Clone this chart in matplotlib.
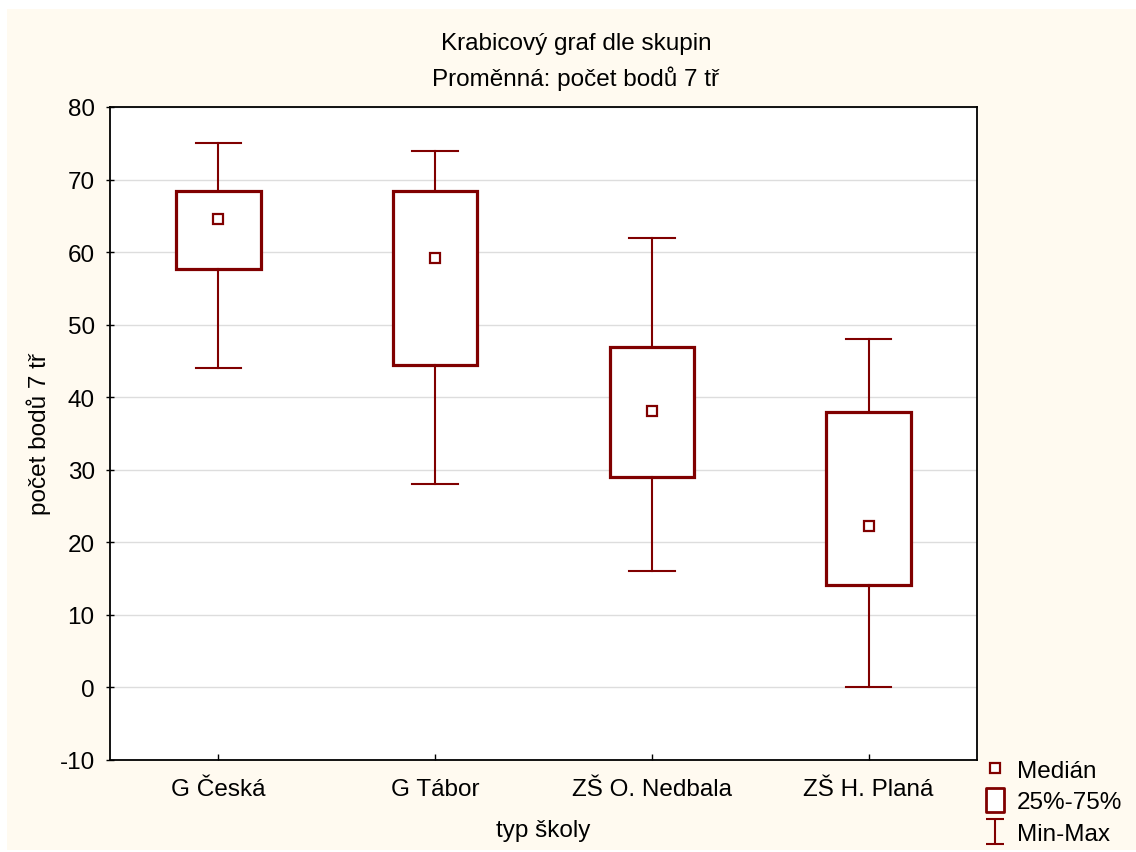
import numpy as np
import matplotlib
matplotlib.use('Agg')
import matplotlib.pyplot as plt
from matplotlib.lines import Line2D
from matplotlib.patches import Rectangle
from matplotlib.path import Path

plt.rcParams['font.family'] = ['Liberation Sans', 'DejaVu Sans']
plt.rcParams['axes.unicode_minus'] = False

# data
skoly = ['G Česká', 'G Tábor', 'ZŠ O. Nedbala', 'ZŠ H. Planá']
minima = [44, 28, 16, 0]
q1 = [57.7, 44.5, 29.0, 14.1]
median = [64.6, 59.2, 38.1, 22.2]
q3 = [68.4, 68.4, 46.9, 37.9]
maxima = [75, 74, 62, 48]
yticks = [-10, 0, 10, 20, 30, 40, 50, 60, 70, 80]

barva = '#800000'
fs = 17.5

fig = plt.figure(figsize=(11.36, 8.53), dpi=100)
fig.patch.set_facecolor('white')
# cream panel behind everything
fig.patches.append(Rectangle((7/1136, 2/853), 1 - 7/1136, 1 - 12/853,
                             transform=fig.transFigure, facecolor='#fffaf0',
                             edgecolor='none', zorder=-10))

ax = fig.add_axes([110/1136, 1 - 761/853, 867/1136, 653/853])
ax.set_facecolor('white')

pos = np.arange(len(skoly)) + 0.5
stats = []
for i in range(len(skoly)):
    stats.append({'med': median[i], 'q1': q1[i], 'q3': q3[i],
                  'whislo': minima[i], 'whishi': maxima[i], 'fliers': []})

ax.bxp(stats, positions=pos, widths=0.39, capwidths=0.21,
       showfliers=False, patch_artist=True,
       boxprops=dict(facecolor='white', edgecolor=barva, linewidth=2.3),
       whiskerprops=dict(color=barva, linewidth=1.5),
       capprops=dict(color=barva, linewidth=1.5),
       medianprops=dict(linewidth=0), zorder=3)
ax.plot(pos, median, ls='none', marker='s', ms=7, mfc='white', mec=barva,
        mew=1.6, zorder=4)

ax.set_xlim(0, 4)
ax.set_ylim(-10, 80)
ax.set_yticks(yticks)
ax.set_xticks(pos)
ax.set_xticklabels(skoly)
ax.tick_params(labelsize=fs, color='black', width=1)
ax.tick_params(axis='y', direction='inout', length=6, pad=8)
ax.tick_params(axis='x', direction='in', length=4, pad=13)
ax.yaxis.grid(True, color='#dddddd', linewidth=1)
ax.set_axisbelow(True)
for s in ax.spines.values():
    s.set_linewidth(1.3)

ax.set_xlabel('typ školy', fontsize=fs, labelpad=14)
ax.set_ylabel('počet bodů 7 tř', fontsize=fs, labelpad=6)

fig.text(0.507, 1 - 44/853, 'Krabicový graf dle skupin', ha='center',
         va='center', fontsize=fs)
fig.text(0.507, 1 - 79/853, 'Proměnná: počet bodů 7 tř', ha='center',
         va='center', fontsize=fs)

# legend
ibeam = Path([(-0.7, 1), (0.7, 1), (0, 1), (0, -1), (-0.7, -1), (0.7, -1)],
             [Path.MOVETO, Path.LINETO, Path.MOVETO, Path.LINETO,
              Path.MOVETO, Path.LINETO])
krabice = Path([(-0.8, -1), (0.8, -1), (0.8, 1), (-0.8, 1), (-0.8, -1)],
               [Path.MOVETO, Path.LINETO, Path.LINETO, Path.LINETO,
                Path.CLOSEPOLY])
handles = [
    Line2D([], [], ls='none', marker='s', ms=7, mfc='white', mec=barva, mew=1.6),
    Line2D([], [], ls='none', marker=krabice, ms=17, mfc='white', mec=barva, mew=2),
    Line2D([], [], ls='none', marker=ibeam, ms=18, mec=barva, mew=1.5),
]
fig.legend(handles, ['Medián', '25%-75%', 'Min-Max'], loc='lower left',
           bbox_to_anchor=(966/1136, -10/853), frameon=False, fontsize=fs,
           handlelength=1.0, handletextpad=0.4, labelspacing=0.4,
           borderpad=0.2)

fig.savefig('out.png', dpi=100, facecolor=fig.get_facecolor())
